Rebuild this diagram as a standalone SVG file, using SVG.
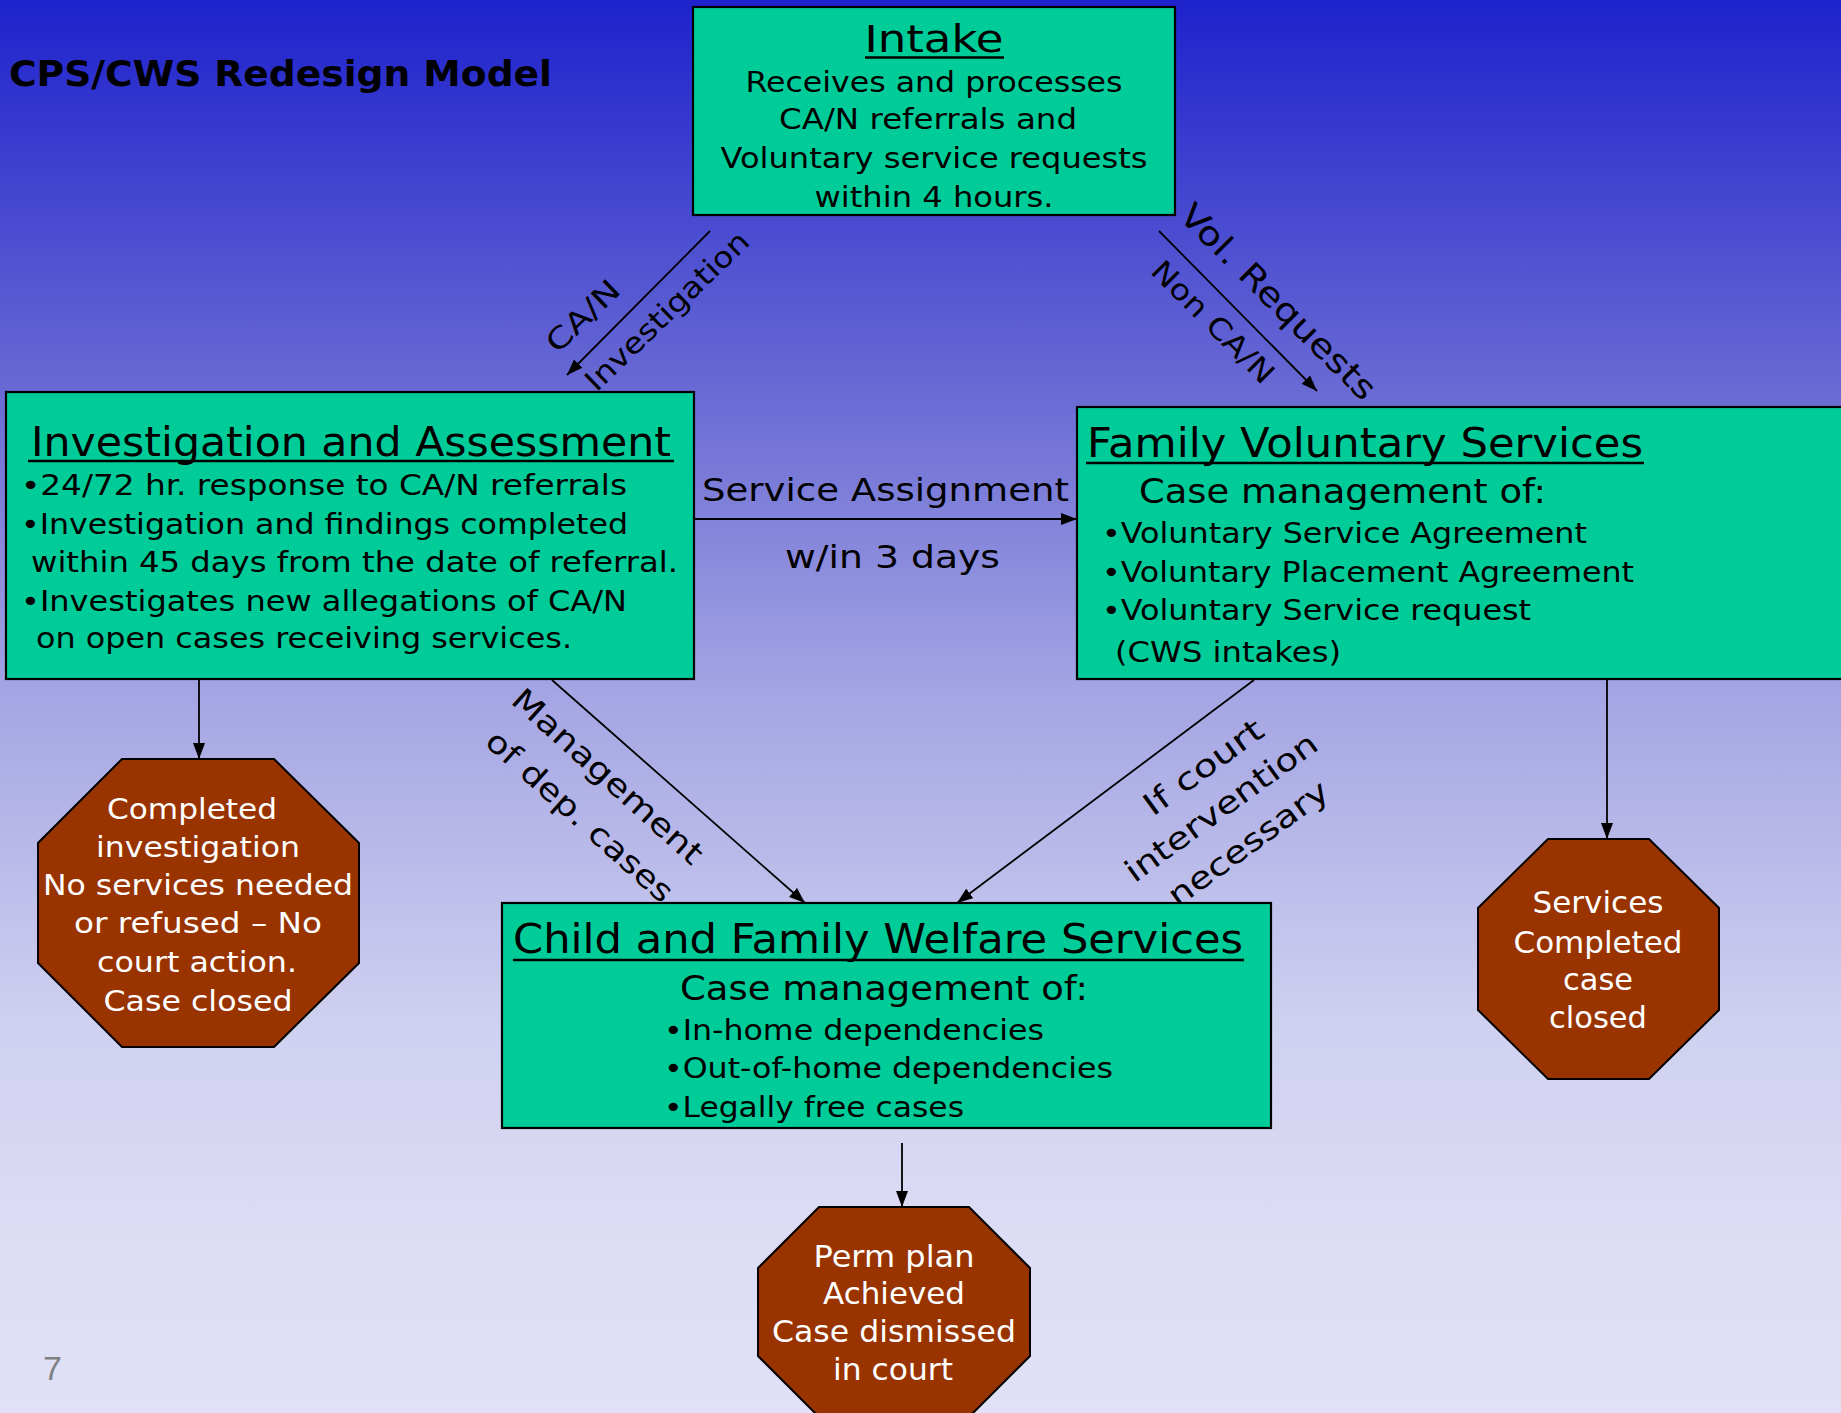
<svg xmlns="http://www.w3.org/2000/svg" width="1841" height="1413" viewBox="0 0 1841 1413">
<defs>
<linearGradient id="bg" x1="0" y1="0" x2="0" y2="1">
<stop offset="0" stop-color="#1E22CC"/>
<stop offset="0.28" stop-color="#6A6BD4"/>
<stop offset="0.49" stop-color="#A4A5E3"/>
<stop offset="0.72" stop-color="#CFCFF0"/>
<stop offset="0.87" stop-color="#DCDCF5"/>
<stop offset="1" stop-color="#E0E1F6"/>
</linearGradient>
<marker id="ah" markerUnits="userSpaceOnUse" markerWidth="16" markerHeight="12" refX="16" refY="6" orient="auto">
<path d="M0,0 L16,6 L0,12 z" fill="#000"/>
</marker>
<style>
.box{fill:#00CC99;stroke:#000;stroke-width:2.2}
.oct{fill:#993300;stroke:#000;stroke-width:2}
.t{font-family:"DejaVu Sans","Liberation Sans",sans-serif;fill:#000}
.w{font-family:"DejaVu Sans","Liberation Sans",sans-serif;fill:#fff}
.ul{stroke:#000;stroke-width:2.5}
.con{stroke:#000;stroke-width:1.8;fill:none;marker-end:url(#ah)}
</style>
</defs>
<rect x="0" y="0" width="1841" height="1413" fill="url(#bg)"/>
<text class="t" x="9" y="86" font-size="36" font-weight="bold" textLength="543" lengthAdjust="spacingAndGlyphs">CPS/CWS Redesign Model</text>
<text x="43" y="1380" font-family="Liberation Sans, sans-serif" font-size="34" fill="#808080">7</text>

<g id="connectors">
<line class="con" x1="710" y1="231" x2="567" y2="375"/>
<line class="con" x1="1159" y1="231" x2="1317" y2="391"/>
<line class="con" x1="694" y1="519" x2="1077" y2="519"/>
<line class="con" x1="552" y1="680" x2="805" y2="903"/>
<line class="con" x1="1254" y1="680" x2="957" y2="903"/>
<line class="con" x1="199" y1="679" x2="199" y2="759"/>
<line class="con" x1="1607" y1="679" x2="1607" y2="839"/>
<line class="con" x1="902" y1="1143" x2="902" y2="1207"/>
<g text-anchor="middle">
<text class="t" font-size="29" transform="translate(583,316) rotate(-44)" y="10" textLength="90" lengthAdjust="spacingAndGlyphs">CA/N</text>
<text class="t" font-size="29" transform="translate(667,311) rotate(-44)" y="10" textLength="215" lengthAdjust="spacingAndGlyphs">Investigation</text>
<text class="t" font-size="33" transform="translate(1278,302) rotate(45)" y="11" textLength="262" lengthAdjust="spacingAndGlyphs">Vol. Requests</text>
<text class="t" font-size="29" transform="translate(1213,322) rotate(45)" y="10" textLength="160" lengthAdjust="spacingAndGlyphs">Non CA/N</text>
<text class="t" font-size="31" transform="translate(608,776) rotate(42)" y="11" textLength="245" lengthAdjust="spacingAndGlyphs">Management</text>
<text class="t" font-size="31" transform="translate(580,816) rotate(42)" y="11" textLength="240" lengthAdjust="spacingAndGlyphs">of dep. cases</text>
<text class="t" font-size="31" transform="translate(1203,767) rotate(-36)" y="11" textLength="140" lengthAdjust="spacingAndGlyphs">If court</text>
<text class="t" font-size="31" transform="translate(1221,807) rotate(-36)" y="11" textLength="230" lengthAdjust="spacingAndGlyphs">intervention</text>
<text class="t" font-size="31" transform="translate(1248,843) rotate(-36)" y="11" textLength="190" lengthAdjust="spacingAndGlyphs">necessary</text>
</g>
<text class="t" x="702" y="501" font-size="32" textLength="367" lengthAdjust="spacingAndGlyphs">Service Assignment</text>
<text class="t" x="785" y="568" font-size="32" textLength="215" lengthAdjust="spacingAndGlyphs">w/in 3 days</text>
</g>

<g id="intake">
<rect class="box" x="693" y="7" width="482" height="208"/>
<g text-anchor="middle">
<text class="t" x="934" y="52" font-size="37" textLength="139" lengthAdjust="spacingAndGlyphs">Intake</text>
<text class="t" x="934" y="92" font-size="29" textLength="377" lengthAdjust="spacingAndGlyphs">Receives and processes</text>
<text class="t" x="928" y="129" font-size="29" textLength="298" lengthAdjust="spacingAndGlyphs">CA/N referrals and</text>
<text class="t" x="934" y="168" font-size="29" textLength="427" lengthAdjust="spacingAndGlyphs">Voluntary service requests</text>
<text class="t" x="934" y="207" font-size="29" textLength="239" lengthAdjust="spacingAndGlyphs">within 4 hours.</text>
</g>
<line class="ul" x1="865" y1="57.5" x2="1004" y2="57.5"/>
</g>

<g id="investigation">
<rect class="box" x="6" y="392" width="688" height="287"/>
<text class="t" x="31" y="456" font-size="40" textLength="640" lengthAdjust="spacingAndGlyphs">Investigation and Assessment</text>
<line class="ul" x1="28" y1="461" x2="674" y2="461"/>
<text class="t" x="21" y="495" font-size="29" textLength="606" lengthAdjust="spacingAndGlyphs">•24/72 hr. response to CA/N referrals</text>
<text class="t" x="21" y="534" font-size="29" textLength="607" lengthAdjust="spacingAndGlyphs">•Investigation and findings completed</text>
<text class="t" x="31" y="572" font-size="29" textLength="647" lengthAdjust="spacingAndGlyphs">within 45 days from the date of referral.</text>
<text class="t" x="21" y="611" font-size="29" textLength="606" lengthAdjust="spacingAndGlyphs">•Investigates new allegations of CA/N</text>
<text class="t" x="36" y="648" font-size="29" textLength="536" lengthAdjust="spacingAndGlyphs">on open cases receiving services.</text>
</g>

<g id="family-voluntary">
<rect class="box" x="1077" y="407" width="800" height="272"/>
<text class="t" x="1087" y="457" font-size="40" textLength="556" lengthAdjust="spacingAndGlyphs">Family Voluntary Services</text>
<line class="ul" x1="1086" y1="463" x2="1644" y2="463"/>
<text class="t" x="1139" y="503" font-size="34" textLength="407" lengthAdjust="spacingAndGlyphs">Case management of:</text>
<text class="t" x="1102" y="543" font-size="29" textLength="485" lengthAdjust="spacingAndGlyphs">•Voluntary Service Agreement</text>
<text class="t" x="1102" y="582" font-size="29" textLength="532" lengthAdjust="spacingAndGlyphs">•Voluntary Placement Agreement</text>
<text class="t" x="1102" y="620" font-size="29" textLength="429" lengthAdjust="spacingAndGlyphs">•Voluntary Service request</text>
<text class="t" x="1115" y="662" font-size="29" textLength="226" lengthAdjust="spacingAndGlyphs">(CWS intakes)</text>
</g>

<g id="child-family-welfare">
<rect class="box" x="502" y="903" width="769" height="225"/>
<text class="t" x="513" y="953" font-size="40" textLength="730" lengthAdjust="spacingAndGlyphs">Child and Family Welfare Services</text>
<line class="ul" x1="513" y1="960" x2="1244" y2="960"/>
<text class="t" x="680" y="1000" font-size="34" textLength="408" lengthAdjust="spacingAndGlyphs">Case management of:</text>
<text class="t" x="664" y="1040" font-size="29" textLength="380" lengthAdjust="spacingAndGlyphs">•In-home dependencies</text>
<text class="t" x="664" y="1078" font-size="29" textLength="449" lengthAdjust="spacingAndGlyphs">•Out-of-home dependencies</text>
<text class="t" x="664" y="1117" font-size="29" textLength="300" lengthAdjust="spacingAndGlyphs">•Legally free cases</text>
</g>

<g id="completed-investigation">
<polygon class="oct" points="122,759 274,759 359,843 359,963 274,1047 122,1047 38,963 38,843"/>
<g text-anchor="middle">
<text class="w" x="192" y="819" font-size="29" textLength="170" lengthAdjust="spacingAndGlyphs">Completed</text>
<text class="w" x="198" y="857" font-size="29" textLength="204" lengthAdjust="spacingAndGlyphs">investigation</text>
<text class="w" x="198" y="895" font-size="29" textLength="310" lengthAdjust="spacingAndGlyphs">No services needed</text>
<text class="w" x="198" y="933" font-size="29" textLength="248" lengthAdjust="spacingAndGlyphs">or refused – No</text>
<text class="w" x="197" y="972" font-size="29" textLength="200" lengthAdjust="spacingAndGlyphs">court action.</text>
<text class="w" x="198" y="1011" font-size="29" textLength="189" lengthAdjust="spacingAndGlyphs">Case closed</text>
</g>
</g>

<g id="services-completed">
<polygon class="oct" points="1548,839 1649,839 1719,908 1719,1010 1649,1079 1548,1079 1478,1010 1478,908"/>
<g text-anchor="middle">
<text class="w" x="1598" y="913" font-size="30" textLength="131" lengthAdjust="spacingAndGlyphs">Services</text>
<text class="w" x="1598" y="953" font-size="30" textLength="169" lengthAdjust="spacingAndGlyphs">Completed</text>
<text class="w" x="1598" y="990" font-size="30" textLength="70" lengthAdjust="spacingAndGlyphs">case</text>
<text class="w" x="1598" y="1028" font-size="30" textLength="98" lengthAdjust="spacingAndGlyphs">closed</text>
</g>
</g>

<g id="perm-plan">
<polygon class="oct" points="819,1207 969,1207 1030,1268 1030,1356 969,1417 819,1417 758,1356 758,1268"/>
<g text-anchor="middle">
<text class="w" x="894" y="1267" font-size="30" textLength="161" lengthAdjust="spacingAndGlyphs">Perm plan</text>
<text class="w" x="894" y="1304" font-size="30" textLength="142" lengthAdjust="spacingAndGlyphs">Achieved</text>
<text class="w" x="894" y="1342" font-size="30" textLength="244" lengthAdjust="spacingAndGlyphs">Case dismissed</text>
<text class="w" x="893" y="1380" font-size="30" textLength="120" lengthAdjust="spacingAndGlyphs">in court</text>
</g>
</g>
</svg>
